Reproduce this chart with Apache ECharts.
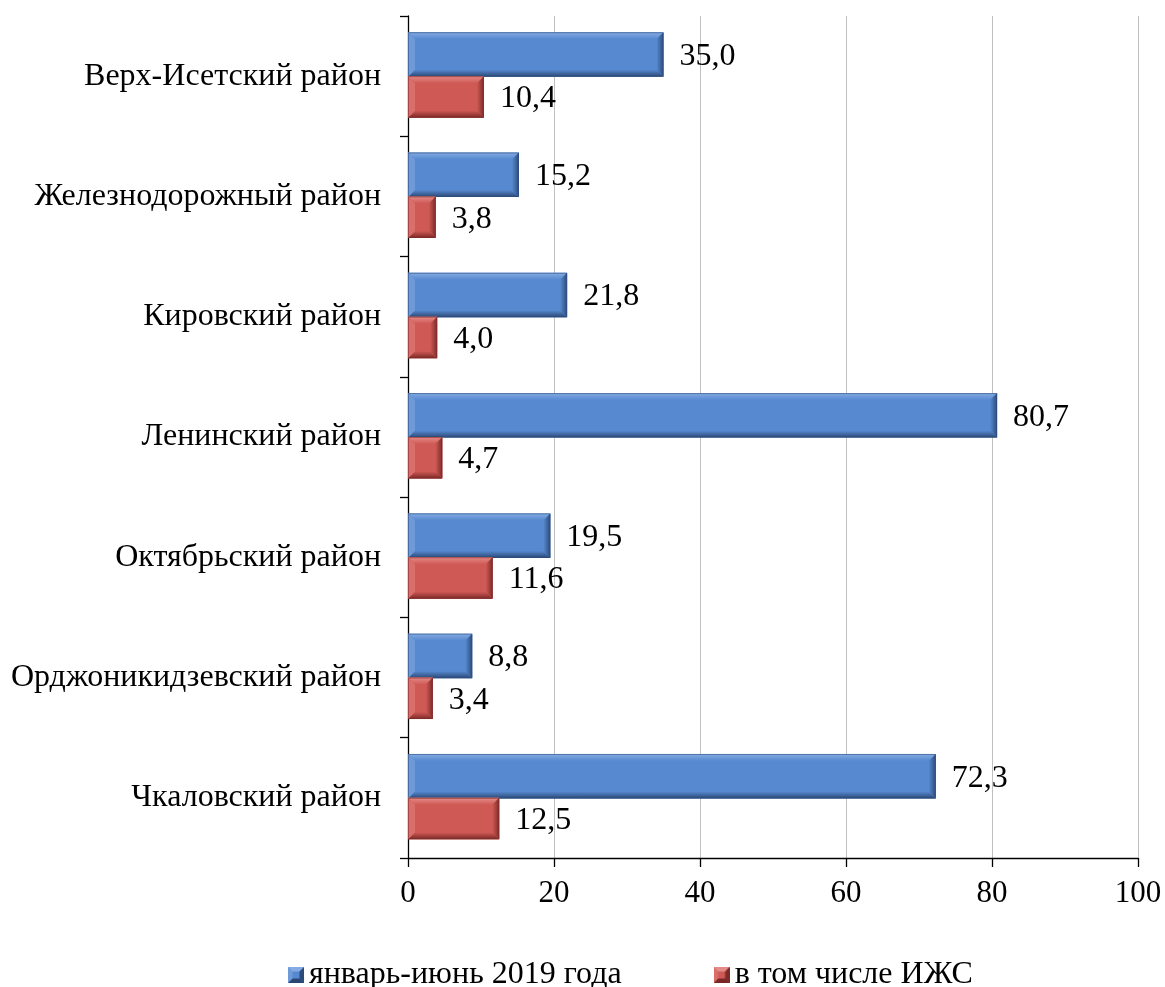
<!DOCTYPE html>
<html><head><meta charset="utf-8">
<script src="https://cdn.jsdelivr.net/npm/echarts@6/dist/echarts.min.js"></script>
<style>html,body{margin:0;padding:0;background:#fff}#c{width:1165px;height:987px}</style>
</head><body><div id="c"></div>
<script>
const categories = ['Верх-Исетский район','Железнодорожный район','Кировский район','Ленинский район','Октябрьский район','Орджоникидзевский район','Чкаловский район'];
const seriesNames = ['январь-июнь 2019 года','в том числе ИЖС'];
const totalValues = [35.0, 15.2, 21.8, 80.7, 19.5, 8.8, 72.3];
const izhsValues = [10.4, 3.8, 4.0, 4.7, 11.6, 3.4, 12.5];
const xTicks = [0, 20, 40, 60, 80, 100];

const FONT = 'Liberation Serif';
const palettes = [
  {face: '#5689d0', top: '#86abe2', bottom: '#2a4773', left: '#6f9ad8', right: '#2d4b7a', edge: '#2e4e7e'},
  {face: '#cf5955', top: '#e58c89', bottom: '#7a2826', left: '#d96e6b', right: '#7c2b29', edge: '#7e2c2a'}
];
// bar placement inside each category band: [offset fraction, height fraction]
const barSlots = [[0.135, 0.37], [0.5, 0.345]];

function bevelShapes(x, y, w, h, pal) {
  const bx = Math.min(7, w / 2), by = Math.min(7, h / 2);
  const poly = (pts, fill) => ({type: 'polygon', shape: {points: pts}, style: {fill: fill}});
  return [
    {type: 'rect', shape: {x: x, y: y, width: w, height: h}, style: {fill: pal.face}},
    poly([[x, y], [x + w, y], [x + w - bx, y + by], [x + bx, y + by]],
      new echarts.graphic.LinearGradient(0, 0, 0, 1, [{offset: 0, color: pal.top}, {offset: 1, color: pal.face}])),
    poly([[x, y + h], [x + w, y + h], [x + w - bx, y + h - by], [x + bx, y + h - by]],
      new echarts.graphic.LinearGradient(0, 1, 0, 0, [{offset: 0, color: pal.bottom}, {offset: 1, color: pal.face}])),
    poly([[x, y], [x + bx, y + by], [x + bx, y + h - by], [x, y + h]], pal.left),
    poly([[x + w, y], [x + w - bx, y + by], [x + w - bx, y + h - by], [x + w, y + h]],
      new echarts.graphic.LinearGradient(1, 0, 0, 0, [{offset: 0, color: pal.right}, {offset: 1, color: pal.face}])),
    {type: 'rect', shape: {x: x + 0.5, y: y + 0.5, width: w - 1, height: h - 1},
      style: {fill: 'none', stroke: pal.edge, lineWidth: 1, opacity: 0.6}}
  ];
}

function iconURL(pal) {
  const c = document.createElement('canvas');
  c.width = 32; c.height = 32;
  const g = c.getContext('2d');
  const s = 32, b = 9;
  const fillPoly = (pts, col) => { g.beginPath(); pts.forEach((p, i) => i ? g.lineTo(p[0], p[1]) : g.moveTo(p[0], p[1])); g.closePath(); g.fillStyle = col; g.fill(); };
  g.fillStyle = pal.face; g.fillRect(0, 0, s, s);
  fillPoly([[0, 0], [s, 0], [s - b, b], [b, b]], pal.top);
  fillPoly([[0, s], [s, s], [s - b, s - b], [b, s - b]], pal.bottom);
  fillPoly([[0, 0], [b, b], [b, s - b], [0, s]], pal.left);
  fillPoly([[s, 0], [s - b, b], [s - b, s - b], [s, s]], pal.right);
  return 'image://' + c.toDataURL();
}

const fmt = v => v.toFixed(1).replace('.', ',');

function makeSeries(k, values) {
  return {
    name: seriesNames[k], type: 'custom',
    itemStyle: {color: palettes[k].face},
    encode: {x: 0, y: 1},
    data: values.map((v, i) => [v, i]),
    renderItem: function (params, api) {
      const v = api.value(0), ci = api.value(1);
      const band = api.size([0, 1])[1];
      const c0 = api.coord([0, ci]);
      const c1 = api.coord([v, ci]);
      const start = c0[1] - band / 2;
      const y = start + band * barSlots[k][0];
      const h = band * barSlots[k][1];
      const x = c0[0], w = c1[0] - c0[0];
      const children = bevelShapes(x, y, w, h, palettes[k]);
      children.push({type: 'text', x: x + w + 16, y: y + h / 2 + 2,
        style: {text: fmt(v), fontFamily: FONT, fontSize: 32, fill: '#000', verticalAlign: 'middle', align: 'left'}});
      return {type: 'group', children: children};
    }
  };
}

const chart = echarts.init(document.getElementById('c'));
chart.setOption({
  animation: false,
  textStyle: {fontFamily: FONT},
  grid: {left: 408, right: 27, top: 16, bottom: 129, containLabel: false},
  legend: {
    left: 283, top: 954, itemWidth: 16, itemHeight: 16, itemGap: 92,
    textStyle: {fontFamily: FONT, fontSize: 32, color: '#000', padding: [2, 0, 0, 0]},
    data: [
      {name: seriesNames[0], icon: iconURL(palettes[0])},
      {name: seriesNames[1], icon: iconURL(palettes[1])}
    ]
  },
  xAxis: {
    type: 'value', min: 0, max: 100, interval: 20,
    axisLine: {show: true, lineStyle: {color: '#000', width: 1.3}},
    axisTick: {show: true, length: 9, lineStyle: {color: '#000', width: 1.3}},
    axisLabel: {fontFamily: FONT, fontSize: 31, color: '#000', margin: 20,
      formatter: v => xTicks.includes(v) ? String(v) : ''},
    splitLine: {show: true, lineStyle: {color: '#c0c0c0', width: 1}}
  },
  yAxis: {
    type: 'category', data: categories, inverse: true,
    axisLine: {show: true, lineStyle: {color: '#000', width: 1.3}},
    axisTick: {show: true, length: 8, lineStyle: {color: '#000', width: 1.3}},
    axisLabel: {fontFamily: FONT, fontSize: 32, color: '#000', margin: 27, padding: [4, 0, 0, 0]}
  },
  series: [makeSeries(0, totalValues), makeSeries(1, izhsValues)]
});
</script></body></html>
